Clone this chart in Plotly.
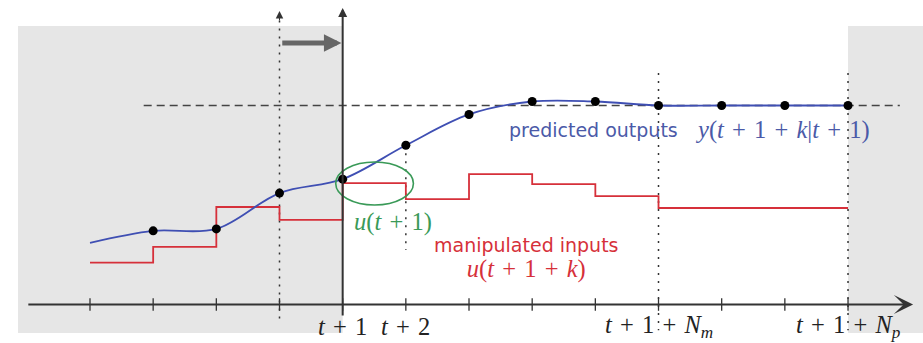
import plotly.graph_objects as go

# ---- data ----
k_steps = [-4, -3, -2, -1, 0, 1, 2, 3, 4, 5, 6, 7, 8]
y_out = [0.31, 0.37, 0.38, 0.56, 0.63, 0.80, 0.955, 1.02, 1.02, 1.0, 1.0, 1.0, 1.0]
u_in = [0.21, 0.29, 0.49, 0.425, 0.61, 0.53, 0.655, 0.605, 0.545, 0.485, 0.485, 0.485, 0.485]
setpoint = 1.0
S = "\u2004"  # math-like spacing around operators
tick_k = [0, 1, 5, 8]
tick_text = [f"<i>t</i>{S}+{S}1", f"<i>t</i>{S}+{S}2",
             f"<i>t</i>{S}+{S}1{S}+{S}<i>N</i><sub><i>m</i></sub>",
             f"<i>t</i>{S}+{S}1{S}+{S}<i>N</i><sub><i>p</i></sub>"]
Nm, Np = 5, 8

BLUE = "#3f4fb3"
BLUE_TXT = "#4b5aa8"
RED = "#d6303a"
GREEN = "#3a9a58"
GREY = "#e6e6e6"
DARK = "#333333"
SERIF = "Liberation Serif"
SANS = "DejaVu Sans"
MATH_SIZE = 24.5
SANS_SIZE = 19

fig = go.Figure()

# grey history / beyond-horizon regions
fig.add_shape(type="rect", x0=-5.14, x1=0, y0=-0.143, y1=1.40, fillcolor=GREY, line_width=0, layer="below")
fig.add_shape(type="rect", x0=Np, x1=9.3, y0=-0.143, y1=1.40, fillcolor=GREY, line_width=0, layer="below")

# dotted vertical lines
dot = "2px,6px"
fig.add_trace(go.Scatter(x=[-1, -1], y=[-0.07, 1.46], mode="lines", line=dict(color=DARK, width=1.5, dash=dot)))
fig.add_trace(go.Scatter(x=[1, 1], y=[y_out[5], 0.274], mode="lines", line=dict(color=DARK, width=1.5, dash=dot)))
fig.add_trace(go.Scatter(x=[Nm, Nm], y=[1.163, -0.13], mode="lines", line=dict(color=DARK, width=1.5, dash=dot)))
fig.add_trace(go.Scatter(x=[Np, Np], y=[1.163, -0.13], mode="lines", line=dict(color=DARK, width=1.5, dash=dot)))

# setpoint dashed line
fig.add_trace(go.Scatter(x=[-3.15, 8.82], y=[setpoint, setpoint], mode="lines",
                         line=dict(color="#444444", width=1.6, dash="8px,5px")))

# inputs (step)
fig.add_trace(go.Scatter(x=k_steps, y=u_in, mode="lines", line=dict(color=RED, width=1.8, shape="hv")))

# outputs (smooth)
fig.add_trace(go.Scatter(x=k_steps, y=y_out, mode="lines",
                         line=dict(color=BLUE, width=1.8, shape="spline", smoothing=1.0)))
fig.add_trace(go.Scatter(x=k_steps[1:], y=y_out[1:], mode="markers", marker=dict(color="black", size=9)))

# tick marks on the time axis
fig.add_trace(go.Scatter(x=k_steps, y=[0] * len(k_steps), mode="markers",
                         marker=dict(symbol="line-ns-open", size=9, color=DARK,
                                     line=dict(color=DARK, width=1.3))))

# green ellipse around u(t+1)
fig.add_shape(type="circle", x0=-0.11, x1=1.12, y0=0.50, y1=0.716, line=dict(color=GREEN, width=1.6))

# axes as arrows
fig.add_annotation(x=9.03, y=0, ax=-5.0, ay=0, axref="x", ayref="y", xref="x", yref="y", text="",
                   showarrow=True, arrowhead=3, arrowsize=1.6, arrowwidth=2, arrowcolor=DARK)
fig.add_annotation(x=0, y=1.49, ax=0, ay=-0.063, axref="x", ayref="y", xref="x", yref="y", text="",
                   showarrow=True, arrowhead=2, arrowsize=0.9, arrowwidth=2, arrowcolor=DARK)
fig.add_annotation(x=-1, y=1.475, ax=-1, ay=1.42, axref="x", ayref="y", xref="x", yref="y", text="",
                   showarrow=True, arrowhead=2, arrowsize=1.5, arrowwidth=1, arrowcolor=DARK)
# shift arrow
fig.add_annotation(x=-0.02, y=1.314, ax=-0.98, ay=1.314, axref="x", ayref="y", xref="x", yref="y", text="",
                   showarrow=True, arrowhead=2, arrowsize=0.7, arrowwidth=5, arrowcolor="#666666")

# tick labels
for kk, tt in zip(tick_k, tick_text):
    fig.add_annotation(x=kk, y=-0.113, text=tt, showarrow=False, xref="x", yref="y",
                       font=dict(family=SERIF, size=MATH_SIZE, color="#222222"), yanchor="middle")

# labels
fig.add_annotation(x=0.79, y=0.415, text=f"<i>u</i>(<i>t</i>{S}+{S}1)", showarrow=False,
                   font=dict(family=SERIF, size=MATH_SIZE, color=GREEN))
fig.add_annotation(
    x=2.91, y=0.233,
    text=("manipulated inputs<br>"
          f"<span style='font-family:{SERIF};font-size:{MATH_SIZE}px'>"
          f"<i>u</i>(<i>t</i>{S}+{S}1{S}+{S}<i>k</i>)</span>"),
    showarrow=False, align="center",
    font=dict(family=SANS, size=SANS_SIZE, color=RED))
fig.add_annotation(x=3.97, y=0.877, text="predicted outputs", showarrow=False,
                   font=dict(family=SANS, size=SANS_SIZE, color=BLUE_TXT))
fig.add_annotation(x=6.97, y=0.877,
                   text=f"<i>y</i>(<i>t</i>{S}+{S}1{S}+{S}<i>k</i>|<i>t</i>{S}+{S}1)", showarrow=False,
                   font=dict(family=SERIF, size=MATH_SIZE, color=BLUE_TXT))

fig.update_layout(
    width=923, height=343, margin=dict(l=0, r=0, t=0, b=0),
    paper_bgcolor="white", plot_bgcolor="white", showlegend=False,
    xaxis=dict(range=[-5.4247, 9.187], visible=False, fixedrange=True),
    yaxis=dict(range=[-(343 - 304.5) / 199, 304.5 / 199], visible=False, fixedrange=True),
)
fig.write_html("out.html")
